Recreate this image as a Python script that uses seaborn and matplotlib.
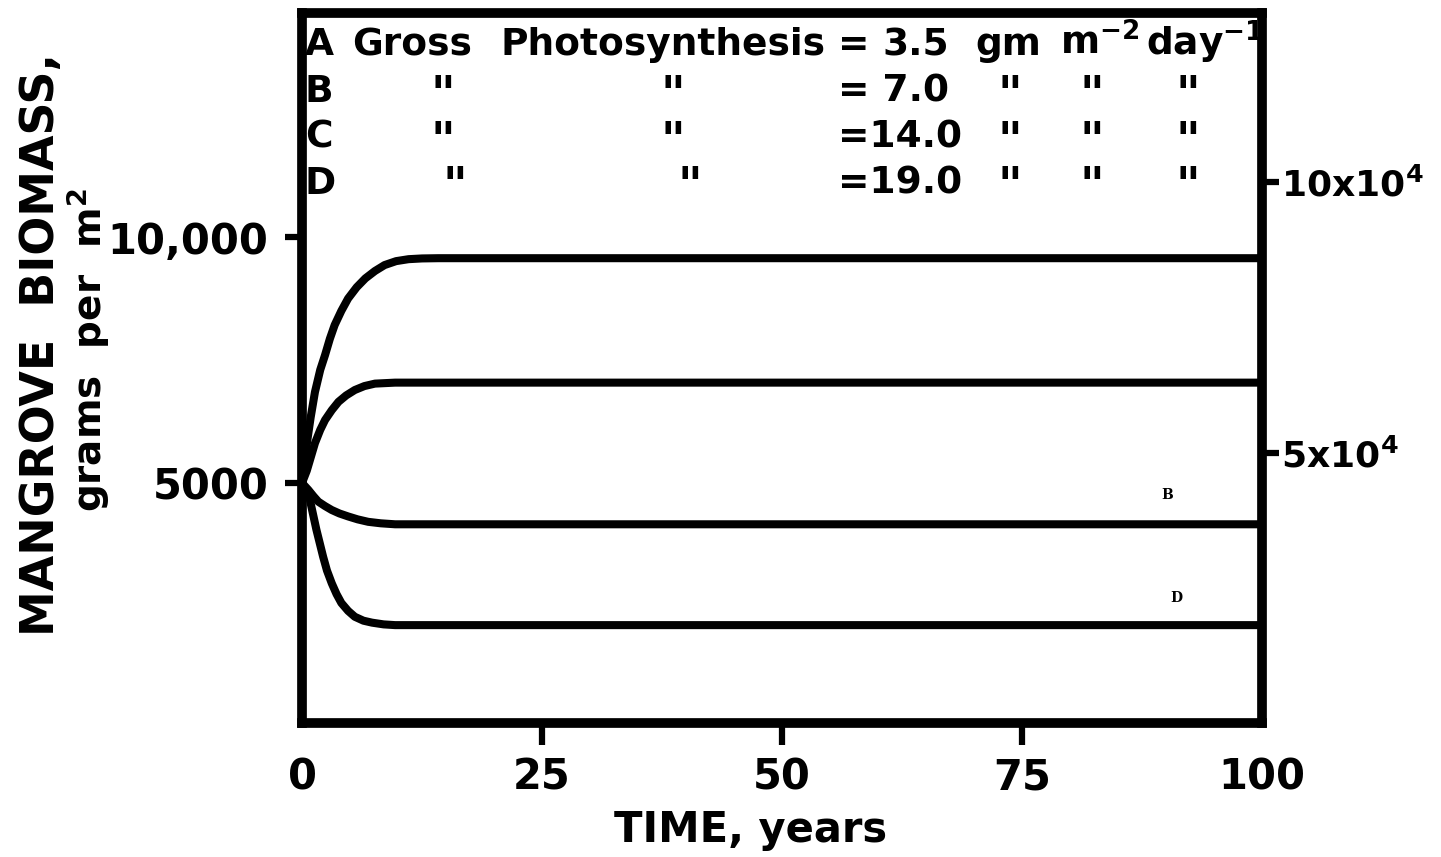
import matplotlib
matplotlib.use("Agg")
from matplotlib import pyplot as plt
import seaborn as sns
import pandas as pd

# curves (years, grams per m2)
years_top = [0, 0.3, 0.6, 0.9, 1.35, 1.9, 2.4, 2.9, 3.4, 4.1, 4.8, 5.7, 6.6,
             7.6, 8.6, 9.8, 11.1, 12.5, 14.2, 100]
biomass_top = [5000, 5500, 5930, 6330, 6850, 7300, 7600, 7930, 8210, 8500,
               8750, 8980, 9160, 9310, 9430, 9510, 9550, 9565, 9570, 9570]

years_second = [0, 0.5, 1.35, 1.9, 2.4, 3.1, 3.8, 4.6, 5.5, 6.5, 7.6, 9.7, 100]
biomass_second = [5000, 5250, 5810, 6080, 6280, 6480, 6650, 6780, 6890, 6970,
                  7020, 7040, 7040]

years_third = [0, 0.66, 1.2, 1.7, 2.4, 3.1, 3.9, 4.8, 5.8, 6.9, 8.2, 9.7, 100]
biomass_third = [5000, 4860, 4730, 4620, 4530, 4450, 4380, 4320, 4260, 4210,
                 4180, 4160, 4160]

years_bottom = [0, 0.4, 0.83, 1.5, 2.2, 2.6, 3.1, 3.6, 4.1, 4.8, 5.5, 6.4,
                7.3, 8.5, 9.7, 100]
biomass_bottom = [5000, 4850, 4650, 4050, 3500, 3220, 2960, 2740, 2560, 2400,
                  2280, 2200, 2160, 2125, 2110, 2110]

curve_names = ["top", "second", "third", "bottom"]

x_ticks = [0, 25, 50, 75, 100]
x_ticklabels = ["0", "25", "50", "75", "100"]
y_ticks = [5000, 10000]
y_ticklabels = ["5000", "10,000"]
right_ticks = [5e4, 10e4]
right_ticklabels = ["5x10$^4$", "10x10$^4$"]

row_letters = ["A", "B", "C", "D"]
row_values = ["3.5", "= 7.0", "=14.0", "=19.0"]
header_words = ["Gross", "Photosynthesis", "=", "gm", "m$^{-2}$", "day$^{-1}$"]

frames = []
for name, xs, ys in zip(curve_names,
                        [years_top, years_second, years_third, years_bottom],
                        [biomass_top, biomass_second, biomass_third, biomass_bottom]):
    frames.append(pd.DataFrame({"years": xs, "biomass": ys, "curve": name}))
df = pd.concat(frames, ignore_index=True)

sns.set_style("white")
plt.rcParams["font.family"] = ["DejaVu Sans"]
plt.rcParams["font.weight"] = "bold"
plt.rcParams["mathtext.fontset"] = "dejavusans"
plt.rcParams["mathtext.default"] = "bf"
for k in ["text.color", "xtick.color", "ytick.color", "axes.labelcolor"]:
    plt.rcParams[k] = "black"

W, H = 1441, 857
fig, ax = plt.subplots(figsize=(W / 100, H / 100), dpi=100)
fig.subplots_adjust(left=302 / W, right=1262 / W, bottom=1 - 723 / H, top=1 - 13 / H)

sns.lineplot(data=df, x="years", y="biomass", hue="curve",
             palette=["black"] * 4, estimator=None, sort=False,
             linewidth=5.8, legend=False, ax=ax)

ax.set_xlim(0, 100)
ax.set_ylim(120, 14555)
for s in ax.spines.values():
    s.set_linewidth(7)
    s.set_color("black")

ax.set_xticks(x_ticks)
ax.set_xticklabels(x_ticklabels, fontsize=30, fontweight="bold")
ax.set_yticks(y_ticks)
ax.set_yticklabels(y_ticklabels, fontsize=30, fontweight="bold")
ax.tick_params(axis="x", direction="out", length=16, width=4.5, pad=8, bottom=True)
ax.tick_params(axis="y", direction="out", length=12, width=4.5, pad=12, left=True)
xt = ax.xaxis.get_major_ticks()
xt[0].tick1line.set_visible(False)
xt[-1].tick1line.set_visible(False)
ax.set_xlabel("")
ax.set_ylabel("")

ax2 = ax.twinx()
ax2.set_ylim(180, 131200)
ax2.set_yticks(right_ticks)
ax2.set_yticklabels(right_ticklabels, fontsize=26, fontweight="bold")
ax2.tick_params(axis="y", direction="out", length=12, width=4.5, pad=2, right=True)
for s in ax2.spines.values():
    s.set_visible(False)


def fx(px):
    return px / W


def fy(py):
    return 1 - py / H


# key written inside the frame
row_base = [55, 102, 148, 194]
for letter, yb in zip(row_letters, row_base):
    fig.text(fx(305), fy(yb), letter, fontsize=27, ha="left", va="baseline")
for word, px in zip(header_words, [352, 500, 838, 975, 1060, 1146]):
    fig.text(fx(px), fy(55), word, fontsize=27, ha="left", va="baseline")
for val, yb, px in zip(row_values, row_base, [882, 838, 838, 838]):
    fig.text(fx(px), fy(yb), val, fontsize=27, ha="left", va="baseline")

# ditto marks
ditto_cols = [[443, 673, 1010, 1092, 1188],
              [443, 673, 1010, 1092, 1188],
              [455, 690, 1010, 1092, 1188]]
for cols, ytop in zip(ditto_cols, [74, 120, 165]):
    for px in cols:
        fig.text(fx(px), fy(ytop), '"', fontsize=34, ha="center", va="top")

# axis titles
fig.text(fx(751), fy(830), "TIME, years", fontsize=30, ha="center", va="center")
fig.text(fx(42), fy(345), "MANGROVE  BIOMASS,", fontsize=33, rotation=90,
         ha="center", va="center")
fig.text(fx(88), fy(350), "grams  per  m$^2$", fontsize=28, rotation=90,
         ha="center", va="center")

# small curve tags near the right edge
fig.text(fx(1167), fy(495), "B", fontsize=10, family="DejaVu Serif",
         ha="center", va="center")
fig.text(fx(1176), fy(598), "D", fontsize=10, family="DejaVu Serif",
         ha="center", va="center")

fig.savefig("out.png", dpi=100)
